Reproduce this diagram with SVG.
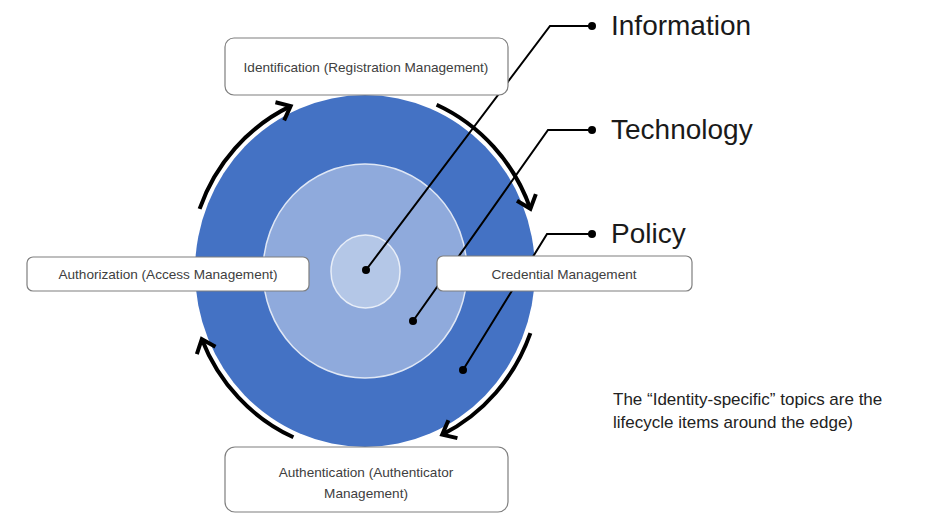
<svg xmlns="http://www.w3.org/2000/svg" width="945" height="526" viewBox="0 0 945 526">
<style>
.box{fill:#fff;stroke:#7f7f7f;stroke-width:1.2}
.bt{font-family:"Liberation Sans",Arial,sans-serif;font-size:13.6px;fill:#404040;text-anchor:middle}
.lbl{font-family:"Liberation Sans",Arial,sans-serif;font-size:28px;fill:#1a1a1a}
.note{font-family:"Liberation Sans",Arial,sans-serif;font-size:17px;fill:#222}
.lead{fill:none;stroke:#000;stroke-width:2}
.cyc{fill:none;stroke:#000;stroke-width:4;marker-end:url(#chev)}
</style>
<defs>
<marker id="chev" markerUnits="userSpaceOnUse" markerWidth="26" markerHeight="26" viewBox="0 0 26 26" refX="16" refY="13" orient="auto">
<path d="M4,3 L16,13 L4,23" fill="none" stroke="#000" stroke-width="4" stroke-linejoin="miter"/>
</marker>
</defs>
<rect width="945" height="526" fill="#fff"/>
<g id="rings">
<ellipse cx="365" cy="271" rx="170" ry="176" fill="#4472C4"/>
<ellipse cx="365" cy="271" rx="102" ry="107" fill="#8FAADC" stroke="#dfe7f5" stroke-width="1.5"/>
<ellipse cx="365.5" cy="271.5" rx="34.5" ry="36.5" fill="#B4C7E7" stroke="#e8eef8" stroke-width="1.5"/>
</g>
<g id="connectors">
<path class="cyc" d="M199.6,208.8 A176,182 0 0 1 290.6,106.1"/>
<path class="cyc" d="M436.6,104.7 A176,182 0 0 1 530.4,208.8"/>
<path class="cyc" d="M530.4,333.2 A176,182 0 0 1 442.2,434.6"/>
<path class="cyc" d="M293.4,437.3 A176,182 0 0 1 201.8,339.2"/>
<polyline class="lead" points="366,270 550,26 592,26"/>
<polyline class="lead" points="413,321 548,130 592,130"/>
<polyline class="lead" points="463,370 547,234 592,234"/>
<circle cx="366" cy="270" r="4"/>
<circle cx="592" cy="26" r="4"/>
<circle cx="413" cy="321" r="4"/>
<circle cx="592" cy="130" r="4"/>
<circle cx="463" cy="370" r="4"/>
<circle cx="592" cy="234" r="4"/>
</g>
<g id="identification">
<rect class="box" x="225" y="38" width="283" height="57" rx="9"/>
<text class="bt" x="366" y="72">Identification (Registration Management)</text>
</g>
<g id="authorization">
<rect class="box" x="27" y="257" width="282" height="34" rx="6"/>
<text class="bt" x="168" y="279">Authorization (Access Management)</text>
</g>
<g id="credential">
<rect class="box" x="437" y="256" width="255" height="35" rx="6"/>
<text class="bt" x="564" y="279">Credential Management</text>
</g>
<g id="authentication">
<rect class="box" x="225" y="447" width="283" height="65" rx="10"/>
<text class="bt" x="366" y="477">Authentication (Authenticator</text>
<text class="bt" x="366" y="498">Management)</text>
</g>
<g id="information"><text class="lbl" x="611" y="35">Information</text></g>
<g id="technology"><text class="lbl" x="611" y="139">Technology</text></g>
<g id="policy"><text class="lbl" x="611" y="243">Policy</text></g>
<g id="note">
<text class="note" x="613" y="405">The “Identity-specific” topics are the</text>
<text class="note" x="613" y="428">lifecycle items around the edge)</text>
</g>
</svg>
